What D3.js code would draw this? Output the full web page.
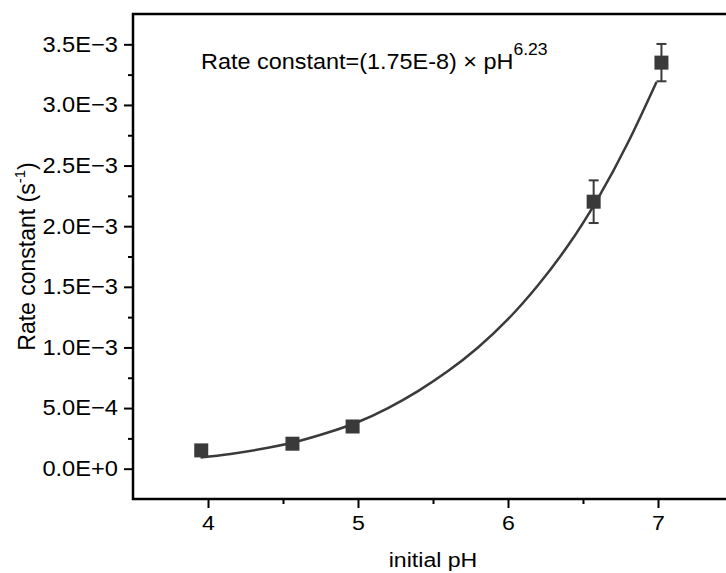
<!DOCTYPE html>
<html lang="en">
<head>
<meta charset="UTF-8">
<title>Rate constant vs initial pH</title>
<script src="https://d3js.org/d3.v7.min.js"></script>
<style>
  body { margin: 0; background: #fff; }
  text { font-family: Arial, "Liberation Sans", sans-serif; fill: #000; }
</style>
</head>
<body>
<svg id="chart" width="726" height="573"></svg>
<script>
// measured points (initial pH vs rate constant, s^-1)
const phValues = [3.955, 4.563, 4.964, 6.571, 7.023];
const rateValues = [1.51e-4, 2.06e-4, 3.48e-4, 2.202e-3, 3.349e-3];
const rateErrors = [3e-5, 3e-5, 3e-5, 1.76e-4, 1.54e-4];

// fitted curve
const fitPh = [3.95, 4.15, 4.4, 4.6, 4.8, 5.0, 5.2, 5.4, 5.6, 5.8, 6.0, 6.2, 6.4, 6.6, 6.8, 6.99];
const fitRate = [9.3e-5, 1.22e-4, 1.72e-4, 2.26e-4, 2.98e-4, 3.85e-4, 5.0e-4, 6.4e-4, 8.05e-4, 1.0e-3,
                 1.233e-3, 1.513e-3, 1.84e-3, 2.23e-3, 2.69e-3, 3.19e-3];

const xTicks = [4, 5, 6, 7];
const xMinorTicks = [4.5, 5.5, 6.5];
const yTicks = [0, 5e-4, 1e-3, 1.5e-3, 2e-3, 2.5e-3, 3e-3, 3.5e-3];
const yTickLabels = ["0.0E+0", "5.0E\u22124", "1.0E\u22123", "1.5E\u22123", "2.0E\u22123", "2.5E\u22123", "3.0E\u22123", "3.5E\u22123"];
const yMinorTicks = [2.5e-4, 7.5e-4, 1.25e-3, 1.75e-3, 2.25e-3, 2.75e-3, 3.25e-3];

const SX = 1.1; // text in the original figure is a little wider than plain Arial
const ink = '#3a3a3a';

const svg = d3.select('#chart');
const plot = { left: 133, right: 733, top: 14, bottom: 499 };

const x = d3.scaleLinear().domain([3.5, 7.5]).range([plot.left, plot.right]);
const y = d3.scaleLinear().domain([-2.5e-4, 3.75e-3]).range([plot.bottom, plot.top]);

// x axis, major + minor
const gx = svg.append('g')
    .attr('transform', `translate(0,${plot.bottom})`)
    .call(d3.axisBottom(x).tickValues(xTicks).tickSize(9).tickPadding(7).tickSizeOuter(0).tickFormat(d3.format('d')));
svg.append('g')
    .attr('transform', `translate(0,${plot.bottom})`)
    .call(d3.axisBottom(x).tickValues(xMinorTicks).tickSize(5).tickSizeOuter(0).tickFormat(''));

// y axis, major + minor
const gy = svg.append('g')
    .attr('transform', `translate(${plot.left},0)`)
    .call(d3.axisLeft(y).tickValues(yTicks).tickSize(9).tickSizeOuter(0).tickFormat((d, i) => yTickLabels[i]));
svg.append('g')
    .attr('transform', `translate(${plot.left},0)`)
    .call(d3.axisLeft(y).tickValues(yMinorTicks).tickSize(5).tickSizeOuter(0).tickFormat(''));

svg.selectAll('.domain').remove();
svg.selectAll('.tick line').attr('stroke', '#000').attr('stroke-width', 2);

gx.selectAll('.tick text')
    .attr('font-size', 21)
    .attr('transform', `scale(${SX},1)`);
gy.selectAll('.tick text')
    .attr('font-size', 21.5)
    .attr('x', -15 / SX)
    .attr('transform', `scale(${SX},1)`);

// frame
svg.append('rect')
    .attr('x', plot.left)
    .attr('y', plot.top)
    .attr('width', plot.right - plot.left)
    .attr('height', plot.bottom - plot.top)
    .attr('fill', 'none')
    .attr('stroke', '#000')
    .attr('stroke-width', 2.5);

// fit curve
const fitData = fitPh.map((p, i) => ({ ph: p, rate: fitRate[i] }));
svg.append('path')
    .datum(fitData)
    .attr('fill', 'none')
    .attr('stroke', ink)
    .attr('stroke-width', 2.5)
    .attr('d', d3.line().x(d => x(d.ph)).y(d => y(d.rate)).curve(d3.curveNatural));

// points with error bars
const pts = phValues.map((p, i) => ({ ph: p, rate: rateValues[i], err: rateErrors[i] }));
const pg = svg.append('g').selectAll('g').data(pts).enter().append('g');
pg.append('line')
    .attr('x1', d => x(d.ph)).attr('x2', d => x(d.ph))
    .attr('y1', d => y(d.rate - d.err)).attr('y2', d => y(d.rate + d.err))
    .attr('stroke', ink).attr('stroke-width', 2);
[-1, 1].forEach(s => {
    pg.append('line')
        .attr('x1', d => x(d.ph) - 5).attr('x2', d => x(d.ph) + 5)
        .attr('y1', d => y(d.rate + s * d.err)).attr('y2', d => y(d.rate + s * d.err))
        .attr('stroke', ink).attr('stroke-width', 2);
});
pg.append('rect')
    .attr('x', d => x(d.ph) - 7)
    .attr('y', d => y(d.rate) - 7)
    .attr('width', 14).attr('height', 14)
    .attr('fill', ink);

// equation
const eq = svg.append('text')
    .attr('transform', `translate(201,69) scale(${SX},1)`)
    .attr('font-size', 21.3);
eq.append('tspan').text('Rate constant=(1.75E-8) \u00d7 pH');
eq.append('tspan').attr('font-size', 16).attr('dy', -14).text('6.23');

// axis titles
svg.append('text')
    .attr('transform', `translate(${(plot.left + plot.right) / 2},567) scale(${SX},1)`)
    .attr('text-anchor', 'middle')
    .attr('font-size', 21)
    .text('initial pH');

const yl = svg.append('text')
    .attr('transform', `translate(35,${(plot.top + plot.bottom) / 2}) rotate(-90)`)
    .attr('text-anchor', 'middle')
    .attr('font-size', 23);
yl.append('tspan').text('Rate constant (s');
yl.append('tspan').attr('font-size', 15).attr('dy', -10).text('-1');
yl.append('tspan').attr('dy', 10).text(')');
</script>
</body>
</html>
